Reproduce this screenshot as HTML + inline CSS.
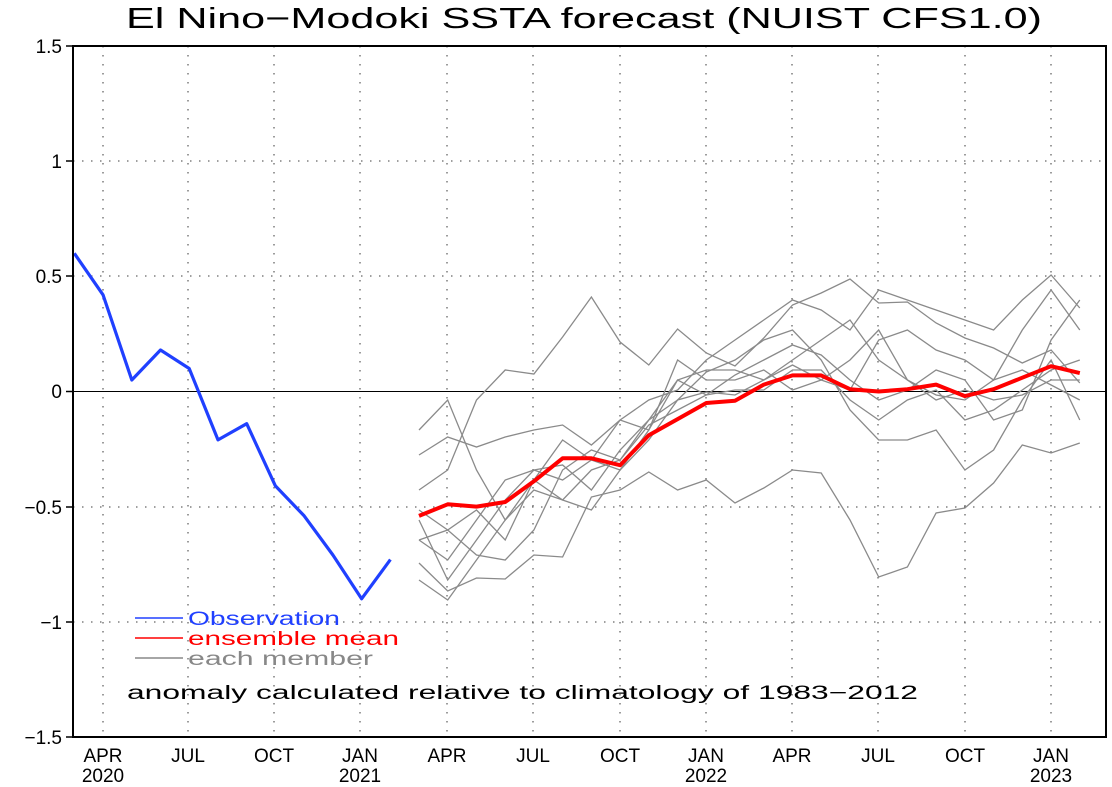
<!DOCTYPE html>
<html><head><meta charset="utf-8"><style>body{margin:0;background:#fff}svg{display:block}</style></head>
<body>
<svg width="1112" height="787" xmlns="http://www.w3.org/2000/svg" font-family="'Liberation Sans', 'DejaVu Sans', sans-serif">
<rect width="1112" height="787" fill="#fff"/>
<text x="584" y="28" font-size="29" text-anchor="middle" textLength="916" lengthAdjust="spacingAndGlyphs" fill="#000">El Nino−Modoki SSTA forecast (NUIST CFS1.0)</text>
<g stroke="#666" stroke-width="1.3" stroke-dasharray="1.5,7.5">
<line x1="103" y1="46" x2="103" y2="737"/><line x1="188" y1="46" x2="188" y2="737"/><line x1="274" y1="46" x2="274" y2="737"/><line x1="360" y1="46" x2="360" y2="737"/><line x1="447" y1="46" x2="447" y2="737"/><line x1="533" y1="46" x2="533" y2="737"/><line x1="620" y1="46" x2="620" y2="737"/><line x1="706" y1="46" x2="706" y2="737"/><line x1="792" y1="46" x2="792" y2="737"/><line x1="878" y1="46" x2="878" y2="737"/><line x1="965" y1="46" x2="965" y2="737"/><line x1="1051" y1="46" x2="1051" y2="737"/>
<line x1="73" y1="161" x2="1106" y2="161"/><line x1="73" y1="276" x2="1106" y2="276"/><line x1="73" y1="507" x2="1106" y2="507"/><line x1="73" y1="622" x2="1106" y2="622"/>
</g>
<line x1="73" y1="391.5" x2="1106" y2="391.5" stroke="#000" stroke-width="1"/>
<g id="members" fill="none" stroke="#8a8a8a" stroke-width="1.3"></g>
<polyline fill="none" stroke="#2040ff" stroke-width="3.2" stroke-linejoin="round" points="74.3,253.3 103,294.8 131.8,380 160.5,350 189.2,368.5 218,439.9 246.7,423.7 275.4,485.9 304.2,515.9 332.9,555 361.6,598.8 390.4,559.6"/>
<polyline id="mean" fill="none" stroke="#f00" stroke-width="4" stroke-linejoin="round" points=""/>
<rect x="73" y="46" width="1033" height="691" fill="none" stroke="#000" stroke-width="2"/>
<g stroke="#000" stroke-width="1.5">
<line x1="66" y1="46" x2="73" y2="46"/><line x1="66" y1="161" x2="73" y2="161"/><line x1="66" y1="276" x2="73" y2="276"/><line x1="66" y1="391.5" x2="73" y2="391.5"/><line x1="66" y1="507" x2="73" y2="507"/><line x1="66" y1="622" x2="73" y2="622"/><line x1="66" y1="737" x2="73" y2="737"/>
</g>
<g font-size="19" text-anchor="end" fill="#000">
<text x="62" y="53">1.5</text><text x="62" y="168">1</text><text x="62" y="283">0.5</text><text x="62" y="398">0</text><text x="62" y="514">−0.5</text><text x="62" y="629">−1</text><text x="62" y="744">−1.5</text>
</g>
<g font-size="19" text-anchor="middle" fill="#000">
<text x="103" y="762">APR</text><text x="103" y="782">2020</text><text x="188" y="762">JUL</text><text x="274" y="762">OCT</text><text x="360" y="762">JAN</text><text x="360" y="782">2021</text><text x="447" y="762">APR</text><text x="533" y="762">JUL</text><text x="620" y="762">OCT</text><text x="706" y="762">JAN</text><text x="706" y="782">2022</text><text x="792" y="762">APR</text><text x="878" y="762">JUL</text><text x="965" y="762">OCT</text><text x="1051" y="762">JAN</text><text x="1051" y="782">2023</text>
</g>
<line x1="135" y1="618" x2="183" y2="618" stroke="#2040ff" stroke-width="1.5"/>
<line x1="135" y1="638" x2="183" y2="638" stroke="#f00" stroke-width="1.5"/>
<line x1="135" y1="658" x2="183" y2="658" stroke="#888" stroke-width="1.5"/>
<g font-size="19">
<text x="188" y="625" fill="#2040ff" textLength="152" lengthAdjust="spacingAndGlyphs">Observation</text>
<text x="188" y="645" fill="#f00" textLength="211" lengthAdjust="spacingAndGlyphs">ensemble mean</text>
<text x="188" y="665" fill="#888" textLength="185" lengthAdjust="spacingAndGlyphs">each member</text>
<text x="127" y="699" fill="#000" textLength="791" lengthAdjust="spacingAndGlyphs">anomaly calculated relative to climatology of 1983−2012</text>
</g>
<script>
var M=[
[490,470,400,370,374,337,297,342,365,329,353,366,338,305,293,279,303,302,323,338,348,363,350,383],
[455,437,447,437,430,425,445,420,400,390,360,340,320,300,310,330,290,300,310,320,330,300,275,308],
[563,591,578,579,555,557,497,490,472,490,480,503,488,470,473,520,577,567,513,508,483,445,453,443],
[540,560,520,480,470,465,490,450,420,400,372,360,340,330,360,410,440,440,430,470,450,400,360,420],
[510,530,555,560,530,470,450,460,425,410,395,375,360,345,355,380,400,390,370,380,420,410,340,300],
[520,580,540,500,470,480,460,470,440,400,392,395,380,360,340,320,360,380,395,400,380,370,385,400],
[540,530,510,540,480,440,460,420,430,380,370,370,380,365,380,390,340,330,350,360,380,330,290,330],
[430,400,470,520,480,500,510,470,430,360,380,380,370,390,380,360,330,380,400,390,400,395,380,380],
[580,600,560,520,490,500,470,460,420,380,395,390,390,370,370,400,420,400,390,420,410,390,370,360]];
var g=document.getElementById('members'),ns='http://www.w3.org/2000/svg';
M.forEach(function(a){var p=document.createElementNS(ns,'polyline');p.setAttribute('points',a.map(function(y,i){return (419+i*28.73).toFixed(1)+','+y}).join(' '));g.appendChild(p);});
var mv=[-0.54,-0.49,-0.50,-0.48,-0.39,-0.29,-0.29,-0.32,-0.19,-0.12,-0.05,-0.04,0.03,0.07,0.07,0.01,0.00,0.01,0.03,-0.02,0.01,0.06,0.11,0.08];
document.getElementById('mean').setAttribute('points',mv.map(function(v,i){return (419+i*28.73).toFixed(1)+','+(391.5-v*230.3).toFixed(1)}).join(' '));
</script>
</svg>
</body></html>
